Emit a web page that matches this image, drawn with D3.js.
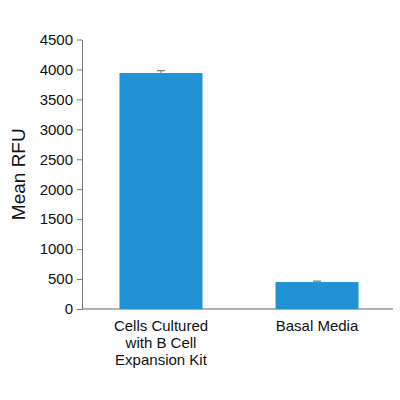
<!DOCTYPE html>
<html lang="en">
<head>
<meta charset="UTF-8">
<title>Mean RFU</title>
<script src="https://d3js.org/d3.v7.min.js"></script>
<style>
  body { margin: 0; background: #fff; }
  text { font-family: "Liberation Sans", Arial, sans-serif; }
</style>
</head>
<body>
<script>
// data
var categories = ["Cells Cultured|with B Cell|Expansion Kit", "Basal Media"];
var values = [3940, 450];
var errors = [40, 15];
var yTicks = [0, 500, 1000, 1500, 2000, 2500, 3000, 3500, 4000, 4500];

var width = 400, height = 400;
var margin = { left: 82, right: 7, top: 39.5, bottom: 91 };

var svg = d3.select("body").append("svg")
    .attr("width", width).attr("height", height);

var x = d3.scaleBand()
    .domain(categories)
    .range([85, width - margin.right])
    .paddingInner(0.468)
    .paddingOuter(0.221);

var y = d3.scaleLinear()
    .domain([0, 4500])
    .range([height - margin.bottom, margin.top]);

// y axis
var yAxis = svg.append("g")
    .attr("transform", "translate(" + margin.left + ",0)")
    .call(d3.axisLeft(y).tickValues(yTicks).tickFormat(d3.format("d"))
        .tickSize(5).tickSizeOuter(0).tickPadding(4));
yAxis.select(".domain").attr("stroke", "#777");
yAxis.selectAll(".tick line").attr("stroke", "#777");
yAxis.selectAll(".tick text").attr("fill", "#111").style("font-size", "15px");

// x axis line
svg.append("line")
    .attr("x1", margin.left).attr("x2", width - margin.right)
    .attr("y1", y(0)).attr("y2", y(0))
    .attr("stroke", "#666").attr("stroke-width", 1.2);

// bars
svg.selectAll(".bar")
    .data(values)
    .enter().append("rect")
    .attr("class", "bar")
    .attr("x", function(d, i) { return x(categories[i]); })
    .attr("width", x.bandwidth())
    .attr("y", function(d) { return y(d); })
    .attr("height", function(d) { return y(0) - y(d); })
    .attr("fill", "#2192d4");

// error bars
var eb = svg.selectAll(".err")
    .data(values)
    .enter().append("g")
    .attr("class", "err");
eb.append("line")
    .attr("x1", function(d, i) { return x(categories[i]) + x.bandwidth() / 2; })
    .attr("x2", function(d, i) { return x(categories[i]) + x.bandwidth() / 2; })
    .attr("y1", function(d) { return y(d); })
    .attr("y2", function(d, i) { return y(d + errors[i]); })
    .attr("stroke", "#777");
eb.append("line")
    .attr("x1", function(d, i) { return x(categories[i]) + x.bandwidth() / 2 - 4; })
    .attr("x2", function(d, i) { return x(categories[i]) + x.bandwidth() / 2 + 4; })
    .attr("y1", function(d, i) { return y(d + errors[i]); })
    .attr("y2", function(d, i) { return y(d + errors[i]); })
    .attr("stroke", "#777").attr("stroke-width", 1.2);

// category labels
var lbl = svg.selectAll(".cat")
    .data(categories)
    .enter().append("text")
    .attr("class", "cat")
    .attr("text-anchor", "middle")
    .attr("fill", "#111")
    .style("font-size", "15px");
lbl.each(function(d) {
    var t = d3.select(this);
    var cx = x(d) + x.bandwidth() / 2;
    d.split("|").forEach(function(line, j) {
        t.append("tspan")
            .attr("x", cx)
            .attr("y", y(0) + 21.5 + j * 17)
            .text(line);
    });
});

// y title
svg.append("text")
    .attr("transform", "translate(25," + (y(0) + margin.top) / 2 + ") rotate(-90)")
    .attr("text-anchor", "middle")
    .attr("fill", "#111")
    .style("font-size", "19px")
    .text("Mean RFU");
</script>
</body>
</html>
